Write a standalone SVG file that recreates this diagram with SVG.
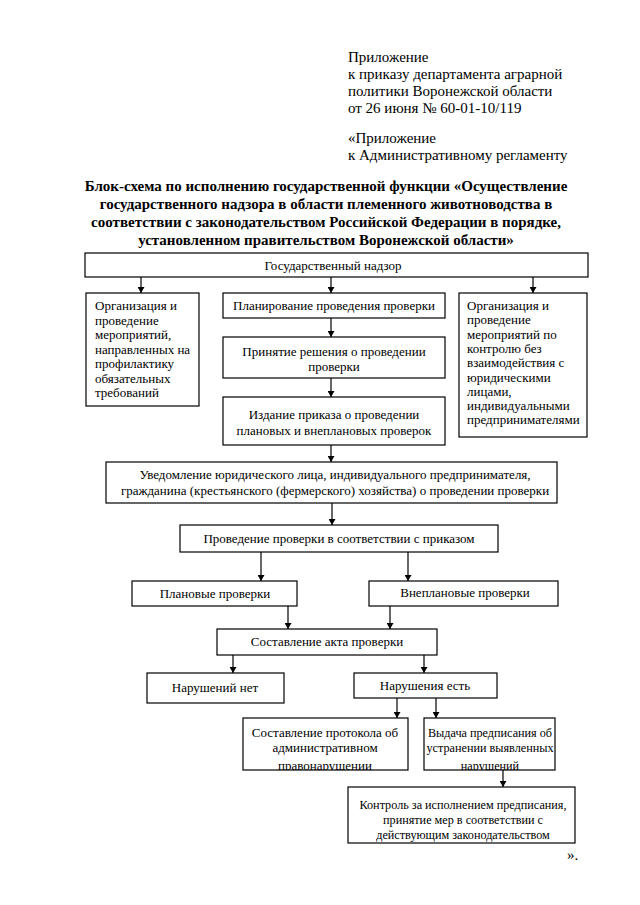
<svg xmlns="http://www.w3.org/2000/svg" width="640" height="905" viewBox="0 0 640 905" font-family="'Liberation Serif', 'Times New Roman', Times, serif">
<style>
text{fill:#000}
.hd{font-size:15px}
.tt{font-size:15px;font-weight:bold;text-anchor:middle}
.bx{font-size:13px}
.sm{font-size:12.2px}
.c{text-anchor:middle}
rect{fill:#fff;stroke:#000;stroke-width:1.2}
#connectors line{stroke:#000;stroke-width:1.2}
</style>
<defs>
<marker id="ah" markerWidth="6" markerHeight="7" refX="6" refY="3.5" orient="auto" markerUnits="userSpaceOnUse">
<path d="M0,0 L6,3.5 L0,7 Z" fill="#000"/>
</marker>
<clipPath id="cp1"><rect x="243" y="718" width="165" height="52"/></clipPath>
<clipPath id="cp2"><rect x="424" y="718" width="131" height="52"/></clipPath>
</defs>
<rect x="0" y="0" width="640" height="905" style="stroke:none;fill:#fff"/>

<g id="header" class="hd">
<text x="348" y="62">Приложение</text>
<text x="348" y="79">к приказу департамента аграрной</text>
<text x="348" y="96">политики  Воронежской области</text>
<text x="348" y="113">от 26 июня № 60-01-10/119</text>
<text x="348" y="143">«Приложение</text>
<text x="348" y="160">к Административному регламенту</text>
</g>

<g id="title" class="tt">
<text x="326" y="191">Блок-схема по исполнению государственной функции «Осуществление</text>
<text x="326" y="209">государственного надзора в области племенного животноводства в</text>
<text x="326" y="227">соответствии с законодательством Российской Федерации в порядке,</text>
<text x="326" y="245">установленном правительством Воронежской области»</text>
</g>

<g id="n_nadzor" class="bx">
<rect x="85" y="253" width="503" height="24"/>
<text class="c" x="333" y="270">Государственный надзор</text>
</g>

<g id="n_profil" class="bx">
<rect x="86" y="293" width="113" height="113"/>
<text x="95" y="310">Организация и</text>
<text x="95" y="324.5">проведение</text>
<text x="95" y="339">мероприятий,</text>
<text x="95" y="353.5">направленных на</text>
<text x="95" y="368">профилактику</text>
<text x="95" y="382.5">обязательных</text>
<text x="95" y="397">требований</text>
</g>

<g id="n_plan" class="bx">
<rect x="223" y="293" width="222" height="25"/>
<text class="c" x="334" y="310">Планирование проведения проверки</text>
</g>

<g id="n_reshenie" class="bx">
<rect x="223" y="337" width="222" height="41"/>
<text class="c" x="334" y="356">Принятие решения о проведении</text>
<text class="c" x="334" y="371">проверки</text>
</g>

<g id="n_prikaz" class="bx">
<rect x="223" y="397" width="222" height="48"/>
<text class="c" x="334" y="419">Издание приказа о проведении</text>
<text class="c" x="334" y="435">плановых и внеплановых проверок</text>
</g>

<g id="n_kontrol_bez" class="bx">
<rect x="459" y="293" width="128" height="144"/>
<text x="467" y="310">Организация и</text>
<text x="467" y="324.3">проведение</text>
<text x="467" y="338.6">мероприятий по</text>
<text x="467" y="352.9">контролю без</text>
<text x="467" y="367.2">взаимодействия с</text>
<text x="467" y="381.5">юридическими</text>
<text x="467" y="395.8">лицами,</text>
<text x="467" y="410.1">индивидуальными</text>
<text x="467" y="424.4">предпринимателями</text>
</g>

<g id="n_uvedomlenie" class="bx">
<rect x="106" y="462" width="451" height="41"/>
<text class="c" x="335" y="479">Уведомление юридического лица, индивидуального предпринимателя,</text>
<text class="c" x="335" y="495">гражданина (крестьянского  (фермерского) хозяйства) о проведении проверки</text>
</g>

<g id="n_provedenie" class="bx">
<rect x="180" y="525" width="318" height="27"/>
<text class="c" x="339" y="543">Проведение проверки  в соответствии с приказом</text>
</g>

<g id="n_planovye" class="bx">
<rect x="132" y="581" width="165" height="25"/>
<text class="c" x="215" y="598">Плановые проверки</text>
</g>

<g id="n_vneplanovye" class="bx">
<rect x="369" y="581" width="189" height="25"/>
<text class="c" x="465" y="597">Внеплановые проверки</text>
</g>

<g id="n_akt" class="bx">
<rect x="217" y="629" width="220" height="26"/>
<text class="c" x="327" y="646">Составление акта проверки</text>
</g>

<g id="n_net" class="bx">
<rect x="147" y="673" width="137" height="30"/>
<text class="c" x="215" y="692">Нарушений нет</text>
</g>

<g id="n_est" class="bx">
<rect x="354" y="673" width="143" height="25"/>
<text class="c" x="425" y="690">Нарушения есть</text>
</g>

<g id="n_protokol" class="bx">
<rect x="243" y="718" width="165" height="52"/>
<g clip-path="url(#cp1)">
<text class="c" x="325" y="737">Составление протокола об</text>
<text class="c" x="325" y="752">административном</text>
<text class="c" x="325" y="770">правонарушении</text>
</g>
</g>

<g id="n_predpisanie" class="bx sm">
<rect x="424" y="718" width="131" height="52"/>
<g clip-path="url(#cp2)">
<text class="c" x="490" y="737">Выдача предписания об</text>
<text class="c" x="490" y="752">устранении выявленных</text>
<text class="c" x="490" y="770">нарушений</text>
</g>
</g>

<g id="n_kontrol" class="bx sm">
<rect x="348" y="787" width="227" height="56"/>
<text class="c" x="463" y="809">Контроль за исполнением предписания,</text>
<text class="c" x="463" y="824">принятие мер в соответствии с</text>
<text class="c" x="463" y="839">действующим законодательством</text>
</g>

<g id="closing" class="hd">
<text x="567" y="860">».</text>
</g>

<g id="connectors">
<line x1="141" y1="277" x2="141" y2="293" marker-end="url(#ah)"/>
<line x1="331" y1="277" x2="331" y2="293" marker-end="url(#ah)"/>
<line x1="533" y1="277" x2="533" y2="293" marker-end="url(#ah)"/>
<line x1="331" y1="318" x2="331" y2="337" marker-end="url(#ah)"/>
<line x1="331" y1="378" x2="331" y2="397" marker-end="url(#ah)"/>
<line x1="331" y1="445" x2="331" y2="462" marker-end="url(#ah)"/>
<line x1="332" y1="503" x2="332" y2="525" marker-end="url(#ah)"/>
<line x1="261" y1="552" x2="261" y2="581" marker-end="url(#ah)"/>
<line x1="408" y1="552" x2="408" y2="581" marker-end="url(#ah)"/>
<line x1="288" y1="606" x2="288" y2="629" marker-end="url(#ah)"/>
<line x1="390" y1="606" x2="390" y2="629" marker-end="url(#ah)"/>
<line x1="233" y1="655" x2="233" y2="673" marker-end="url(#ah)"/>
<line x1="424" y1="655" x2="424" y2="673" marker-end="url(#ah)"/>
<line x1="397" y1="698" x2="397" y2="718" marker-end="url(#ah)"/>
<line x1="436" y1="698" x2="436" y2="718" marker-end="url(#ah)"/>
<line x1="503" y1="770" x2="503" y2="787" marker-end="url(#ah)"/>
</g>
</svg>
